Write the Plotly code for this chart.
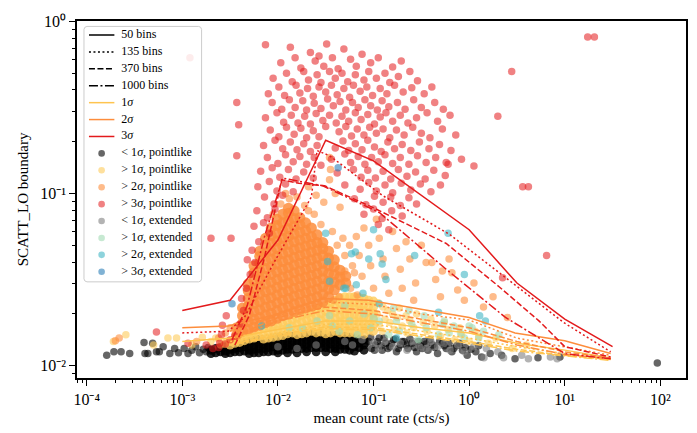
import plotly.graph_objects as go

# ---------------- boundary curves: log10(rate), log10(SCATT_LO) ----------------
# 3 sigma
s3_b50_lx = [-3.0, -2.5, -2.0, -1.5, -1.0, -0.5, 0.0, 0.5, 1.0, 1.5]
s3_b50_ly = [-1.68, -1.62, -1.27, -0.69, -0.81, -1.01, -1.21, -1.52, -1.73, -1.89]
s3_b135_lx = [-3.0, -2.52, -2.35, -2.04, -1.65, -1.59, -1.46, -0.91, -0.21, 0.38, 0.99, 1.48]
s3_b135_ly = [-1.81, -1.80, -1.72, -1.40, -1.02, -0.75, -0.78, -1.01, -1.235, -1.49, -1.75, -1.92]
s3_b370_lx = [-2.45, -2.30, -2.14, -1.96, -1.78, -1.51, -1.01, -0.24, 0.31, 0.73, 1.0, 1.48]
s3_b370_ly = [-1.88, -1.71, -1.37, -0.92, -0.94, -0.955, -1.08, -1.29, -1.54, -1.74, -1.89, -1.95]
s3_b1000_lx = [-2.48, -2.32, -2.14, -1.95, -1.53, -0.94, -0.24, 0.38, 1.0, 1.48]
s3_b1000_ly = [-1.85, -1.65, -1.25, -0.91, -0.955, -1.11, -1.44, -1.72, -1.93, -1.96]
# 2 sigma
s2_b50_lx = [-3.0, -2.52, -2.0, -1.52, -1.05, -0.32, 0.0, 0.48, 1.0, 1.48]
s2_b50_ly = [-1.78, -1.77, -1.70, -1.61, -1.62, -1.69, -1.72, -1.81, -1.855, -1.93]
s2_b135_lx = [-2.5, -2.0, -1.5, -1.0, -0.5, 0.0, 0.5, 1.0, 1.48]
s2_b135_ly = [-1.80, -1.71, -1.63, -1.645, -1.70, -1.735, -1.84, -1.89, -1.94]
s2_b370_lx = [-2.45, -2.0, -1.5, -1.0, -0.5, 0.0, 0.5, 1.0, 1.48]
s2_b370_ly = [-1.83, -1.72, -1.66, -1.68, -1.73, -1.78, -1.86, -1.92, -1.955]
s2_b1000_lx = [-2.45, -2.0, -1.5, -1.0, -0.5, 0.0, 0.5, 1.0, 1.48]
s2_b1000_ly = [-1.84, -1.74, -1.68, -1.70, -1.75, -1.80, -1.88, -1.935, -1.96]
# 1 sigma
s1_b50_lx = [-3.0, -2.5, -2.0, -1.5, -1.0, -0.5, 0.0, 0.5, 1.0, 1.48]
s1_b50_ly = [-1.86, -1.84, -1.79, -1.74, -1.74, -1.78, -1.81, -1.87, -1.91, -1.955]
s1_b135_lx = [-2.5, -2.0, -1.5, -1.0, -0.5, 0.0, 0.5, 1.0, 1.48]
s1_b135_ly = [-1.86, -1.81, -1.76, -1.76, -1.80, -1.84, -1.89, -1.93, -1.96]
s1_b370_lx = [-2.45, -2.0, -1.5, -1.0, -0.5, 0.0, 0.5, 1.0, 1.48]
s1_b370_ly = [-1.87, -1.82, -1.775, -1.78, -1.82, -1.86, -1.905, -1.94, -1.965]
s1_b1000_lx = [-2.45, -2.0, -1.5, -1.0, -0.5, 0.0, 0.5, 1.0, 1.48]
s1_b1000_ly = [-1.875, -1.83, -1.785, -1.79, -1.83, -1.87, -1.915, -1.945, -1.97]

# ---------------- sources: (log10 rate, log10 SCATT_LO) ----------------
lt1_point_cols = [
    (-2.70, [-1.91, -1.93]), (-2.65, [-1.90, -1.925]), (-2.60, [-1.895, -1.92]),
    (-2.55, [-1.89, -1.915, -1.93]), (-2.50, [-1.88, -1.905, -1.925]), (-2.45, [-1.875, -1.90, -1.92]),
    (-2.40, [-1.87, -1.895, -1.92]), (-2.35, [-1.865, -1.89, -1.915]), (-2.30, [-1.86, -1.885, -1.91, -1.93]),
    (-2.25, [-1.855, -1.88, -1.905, -1.925]), (-2.20, [-1.85, -1.875, -1.90, -1.925]),
    (-2.15, [-1.85, -1.875, -1.90, -1.92]), (-2.10, [-1.845, -1.87, -1.895, -1.92]),
    (-2.05, [-1.84, -1.865, -1.89, -1.915]), (-2.00, [-1.835, -1.86, -1.885, -1.91, -1.925]),
    (-1.95, [-1.835, -1.86, -1.885, -1.91]), (-1.90, [-1.83, -1.855, -1.88, -1.905, -1.925]),
    (-1.85, [-1.83, -1.855, -1.88, -1.905]), (-1.80, [-1.825, -1.85, -1.875, -1.90, -1.925]),
    (-1.75, [-1.825, -1.85, -1.875, -1.90]), (-1.70, [-1.825, -1.85, -1.875, -1.90, -1.92]),
    (-1.65, [-1.82, -1.845, -1.87, -1.895]), (-1.60, [-1.82, -1.845, -1.87, -1.895, -1.92]),
    (-1.55, [-1.82, -1.845, -1.87, -1.895]), (-1.50, [-1.82, -1.845, -1.87, -1.895, -1.92]),
    (-1.45, [-1.825, -1.85, -1.875, -1.90]), (-1.40, [-1.825, -1.85, -1.875, -1.90, -1.92]),
    (-1.35, [-1.83, -1.855, -1.88, -1.905]), (-1.30, [-1.83, -1.855, -1.88, -1.905]),
    (-1.25, [-1.835, -1.86, -1.885, -1.91]), (-1.20, [-1.84, -1.865, -1.89, -1.915]),
    (-1.15, [-1.845, -1.87, -1.895]), (-1.10, [-1.85, -1.88, -1.91]),
]
lt1_point_sparse = [
    (-3.79, -1.94), (-3.715, -1.92), (-3.64, -1.92), (-3.55, -1.93), (-3.40, -1.865), (-3.39, -1.93),
    (-3.36, -1.93), (-3.31, -1.87), (-3.27, -1.92), (-3.24, -1.92), (-3.20, -1.89), (-3.13, -1.93),
    (-3.08, -1.90), (-3.04, -1.925), (-2.98, -1.90), (-2.94, -1.93), (-2.90, -1.91), (-2.86, -1.89),
    (-2.82, -1.925), (-2.78, -1.905), (-2.75, -1.92), (-2.73, -1.895),
    (-1.05, -1.86), (-1.02, -1.90), (-0.98, -1.88), (-0.94, -1.84), (-0.91, -1.91), (-0.87, -1.87),
    (-0.83, -1.89), (-0.79, -1.85), (-0.76, -1.92), (-0.72, -1.88), (-0.68, -1.86), (-0.64, -1.90),
    (-0.60, -1.87), (-0.55, -1.92), (-0.51, -1.885), (-0.47, -1.86), (-0.43, -1.91), (-0.38, -1.88),
    (-0.33, -1.93), (-0.28, -1.87), (-0.24, -1.90), (-0.18, -1.92), (-0.13, -1.885), (-0.07, -1.91),
    (-0.02, -1.94), (0.07, -1.92), (0.13, -1.95), (0.22, -1.93), (0.34, -1.94), (0.48, -1.96),
    (0.72, -1.955), (0.95, -1.95), (1.968, -1.985),
    (-1.08, -1.87), (-1.03, -1.835), (-0.99, -1.91), (-0.96, -1.86), (-0.92, -1.885), (-0.89, -1.84),
    (-0.85, -1.90), (-0.81, -1.87), (-0.77, -1.845), (-0.74, -1.90), (-0.70, -1.86), (-0.66, -1.88),
    (-0.62, -1.845), (-0.57, -1.895), (-0.53, -1.86), (-0.49, -1.90), (-0.45, -1.875), (-0.41, -1.85),
    (-0.36, -1.895), (-0.31, -1.86), (-0.26, -1.885), (-0.21, -1.87), (-0.16, -1.90), (-0.10, -1.87),
    (-0.04, -1.895), (0.02, -1.905), (0.10, -1.885),
]
gt1_point_cols = [
    (-2.55, [-1.87]), (-2.50, [-1.86, -1.88]), (-2.45, [-1.845, -1.87]), (-2.40, [-1.835, -1.865]),
    (-2.35, [-1.825, -1.855]), (-2.30, [-1.815, -1.845]), (-2.25, [-1.805, -1.84]), (-2.20, [-1.795, -1.83]),
    (-2.15, [-1.785, -1.82, -1.845]), (-2.10, [-1.775, -1.81, -1.84]), (-2.05, [-1.77, -1.80, -1.835]),
    (-2.00, [-1.76, -1.795, -1.83]), (-1.95, [-1.755, -1.79, -1.825]), (-1.90, [-1.745, -1.78, -1.815]),
    (-1.85, [-1.735, -1.77, -1.81]), (-1.80, [-1.725, -1.76, -1.795, -1.82]),
    (-1.75, [-1.71, -1.745, -1.78, -1.815]), (-1.70, [-1.70, -1.735, -1.77, -1.81]),
    (-1.65, [-1.69, -1.725, -1.76, -1.80]), (-1.60, [-1.675, -1.71, -1.745, -1.78, -1.81]),
    (-1.55, [-1.665, -1.70, -1.735, -1.77, -1.805]), (-1.50, [-1.65, -1.685, -1.72, -1.755, -1.79, -1.815]),
    (-1.45, [-1.635, -1.67, -1.705, -1.74, -1.775, -1.81]), (-1.40, [-1.62, -1.655, -1.69, -1.725, -1.76, -1.80]),
    (-1.35, [-1.605, -1.64, -1.675, -1.71, -1.745, -1.78, -1.81]),
    (-1.30, [-1.60, -1.635, -1.67, -1.705, -1.74, -1.775, -1.81]),
    (-1.25, [-1.60, -1.635, -1.67, -1.705, -1.74, -1.775, -1.81]),
    (-1.20, [-1.60, -1.635, -1.67, -1.705, -1.74, -1.775, -1.81]),
    (-1.15, [-1.605, -1.64, -1.675, -1.71, -1.745, -1.78, -1.815]),
    (-1.10, [-1.61, -1.645, -1.68, -1.715, -1.75, -1.785, -1.82]),
    (-1.05, [-1.62, -1.655, -1.69, -1.725, -1.76, -1.795]),
    (-1.00, [-1.625, -1.66, -1.695, -1.73, -1.765, -1.80]),
]
gt1_point_sparse = [
    (-0.95, -1.635), (-0.96, -1.70), (-0.94, -1.76), (-0.90, -1.66), (-0.88, -1.73), (-0.91, -1.80),
    (-0.85, -1.68), (-0.83, -1.75), (-0.80, -1.70), (-0.78, -1.79), (-0.75, -1.72), (-0.73, -1.665),
    (-0.70, -1.77), (-0.66, -1.71), (-0.65, -1.81), (-0.62, -1.74), (-0.58, -1.78), (-0.55, -1.70),
    (-0.48, -1.75), (-0.44, -1.80), (-0.40, -1.73), (-0.36, -1.77), (-0.30, -1.83), (-0.26, -1.75),
    (-0.22, -1.79), (-0.15, -1.85), (-0.10, -1.78), (-0.08, -1.82), (0.00, -1.86), (0.06, -1.80),
    (0.10, -1.83), (0.20, -1.87), (0.28, -1.84), (0.45, -1.90), (0.60, -1.88),
    (-3.72, -1.86), (-3.59, -1.82), (-3.15, -1.84), (-3.06, -1.84), (-2.79, -1.835),
    (-2.90, -1.88), (-2.70, -1.86), (-2.65, -1.84), (-2.60, -1.88), (-3.30, -1.88),
]
gt2_point_cols = [
    (-2.43, [-1.82, -1.78]),
    (-2.37, [-1.80, -1.755, -1.71, -1.665]),
    (-2.31, [-1.79, -1.745, -1.70, -1.655, -1.61, -1.565, -1.525]),
    (-2.25, [-1.775, -1.73, -1.685, -1.64, -1.595, -1.55, -1.505, -1.46, -1.42]),
    (-2.19, [-1.765, -1.72, -1.675, -1.63, -1.585, -1.54, -1.495, -1.45, -1.405, -1.365, -1.335]),
    (-2.13, [-1.75, -1.705, -1.66, -1.615, -1.57, -1.525, -1.48, -1.435, -1.39, -1.345, -1.30, -1.26]),
    (-2.07, [-1.74, -1.695, -1.65, -1.605, -1.56, -1.515, -1.47, -1.425, -1.38, -1.335, -1.29, -1.245, -1.20]),
    (-2.01, [-1.725, -1.68, -1.635, -1.59, -1.545, -1.50, -1.455, -1.41, -1.365, -1.32, -1.275, -1.23, -1.185, -1.15]),
    (-1.95, [-1.71, -1.665, -1.62, -1.575, -1.53, -1.485, -1.44, -1.395, -1.35, -1.305, -1.26, -1.215, -1.17, -1.12]),
    (-1.89, [-1.70, -1.655, -1.61, -1.565, -1.52, -1.475, -1.43, -1.385, -1.34, -1.295, -1.25, -1.205, -1.16, -1.115, -1.085]),
    (-1.83, [-1.685, -1.64, -1.595, -1.55, -1.505, -1.46, -1.415, -1.37, -1.325, -1.28, -1.235, -1.19, -1.145, -1.10]),
    (-1.77, [-1.675, -1.63, -1.585, -1.54, -1.495, -1.45, -1.405, -1.36, -1.315, -1.27, -1.225, -1.18, -1.14]),
    (-1.71, [-1.665, -1.62, -1.575, -1.53, -1.485, -1.44, -1.395, -1.35, -1.305, -1.26, -1.215, -1.17]),
    (-1.65, [-1.655, -1.61, -1.565, -1.52, -1.475, -1.43, -1.385, -1.34, -1.295, -1.25, -1.20]),
    (-1.59, [-1.645, -1.60, -1.555, -1.51, -1.465, -1.42, -1.375, -1.33, -1.285, -1.24]),
    (-1.53, [-1.63, -1.585, -1.54, -1.495, -1.45, -1.405, -1.36, -1.32, -1.285]),
    (-1.47, [-1.60, -1.555, -1.51, -1.465, -1.42, -1.375, -1.335]),
    (-1.41, [-1.56, -1.515, -1.47, -1.425, -1.385]),
    (-1.35, [-1.53, -1.485, -1.445]),
    (-1.29, [-1.52, -1.48]),
]
gt2_point_sparse = [
    (-1.88, -1.03), (-1.92, -1.00), (-1.80, -1.02), (-1.72, -1.07), (-1.68, -1.10), (-2.05, -1.12),
    (-1.97, -1.06), (-1.62, -1.12), (-1.55, -1.18), (-1.46, -0.79), (-1.45, -0.86), (-1.46, -0.92),
    (-1.68, -0.96), (-1.60, -1.01), (-1.52, -1.05), (-1.40, -1.00), (-1.35, -1.08), (-1.43, -1.22),
    (-1.38, -1.30), (-1.32, -1.26), (-1.30, -1.36), (-1.25, -1.30), (-1.22, -1.42), (-1.18, -1.25),
    (-1.15, -1.36), (-1.12, -1.48), (-1.10, -1.20), (-1.05, -1.30), (-1.03, -1.42), (-1.00, -1.55),
    (-0.97, -1.15), (-0.94, -1.26), (-0.90, -1.38), (-0.88, -1.48), (-0.84, -1.58), (-0.80, -1.22),
    (-0.76, -1.32), (-0.72, -1.44), (-0.70, -1.55), (-0.66, -1.28), (-0.62, -1.38), (-0.58, -1.62),
    (-0.56, -1.52), (-0.50, -1.30), (-0.45, -1.40), (-0.39, -1.40), (-0.35, -1.50), (-0.30, -1.60),
    (-0.28, -1.45), (-0.21, -1.38), (-0.18, -1.46), (-0.12, -1.56), (-0.05, -1.62), (0.05, -1.52),
    (0.15, -1.66), (0.25, -1.60), (0.40, -1.72), (-1.30, -1.45), (-1.20, -1.46), (-1.24, -1.55),
    (-1.17, -1.59), (-1.36, -1.60), (-1.42, -1.62),
    (-3.70, -1.855), (-3.66, -1.84), (-2.85, -1.86), (-2.62, -1.84), (-2.55, -1.81), (-2.50, -1.78),
]
gt3_point_cloud = [
    (-2.13, -0.135), (-1.87, -0.15), (-1.66, -0.18), (-1.49, -0.13), (-1.31, -0.16), (-1.12, -0.19),
    (-1.57, -0.20),
    (-1.97, -0.24), (-1.82, -0.21), (-1.76, -0.27), (-1.61, -0.23), (-1.52, -0.26), (-1.43, -0.21),
    (-1.37, -0.275), (-1.24, -0.22), (-1.18, -0.26), (-1.03, -0.24), (-0.95, -0.21), (-0.80, -0.265),
    (-0.71, -0.23),
    (-2.05, -0.33), (-1.91, -0.30), (-1.85, -0.35), (-1.73, -0.29), (-1.68, -0.34), (-1.59, -0.31),
    (-1.55, -0.355), (-1.46, -0.29), (-1.40, -0.33), (-1.33, -0.30), (-1.27, -0.35), (-1.19, -0.31),
    (-1.10, -0.34), (-1.05, -0.29), (-0.97, -0.33), (-0.88, -0.30), (-0.83, -0.355), (-0.74, -0.32),
    (-0.62, -0.29), (-0.54, -0.345),
    (-2.10, -0.42), (-1.99, -0.38), (-1.93, -0.43), (-1.81, -0.37), (-1.77, -0.415), (-1.69, -0.39),
    (-1.63, -0.435), (-1.57, -0.38), (-1.50, -0.41), (-1.44, -0.37), (-1.38, -0.425), (-1.31, -0.39),
    (-1.25, -0.44), (-1.21, -0.37), (-1.14, -0.405), (-1.07, -0.38), (-1.01, -0.43), (-0.93, -0.39),
    (-0.86, -0.42), (-0.78, -0.37), (-0.69, -0.41), (-0.60, -0.385), (-0.47, -0.42), (-0.39, -0.38),
    (-2.06, -0.47), (-1.96, -0.51), (-1.88, -0.455), (-1.82, -0.50), (-1.74, -0.46), (-1.70, -0.515),
    (-1.62, -0.475), (-1.55, -0.505), (-1.48, -0.45), (-1.42, -0.49), (-1.35, -0.465), (-1.29, -0.515),
    (-1.22, -0.47), (-1.16, -0.50), (-1.09, -0.455), (-1.03, -0.49), (-0.96, -0.515), (-0.91, -0.46),
    (-0.84, -0.495), (-0.75, -0.47), (-0.67, -0.51), (-0.58, -0.455), (-0.50, -0.50), (-0.36, -0.47),
    (-0.27, -0.51),
    (-2.13, -0.56), (-2.01, -0.53), (-1.94, -0.585), (-1.86, -0.545), (-1.79, -0.59), (-1.72, -0.55),
    (-1.66, -0.595), (-1.60, -0.535), (-1.53, -0.575), (-1.46, -0.545), (-1.39, -0.59), (-1.33, -0.55),
    (-1.26, -0.58), (-1.19, -0.53), (-1.13, -0.57), (-1.06, -0.54), (-0.99, -0.595), (-0.93, -0.555),
    (-0.87, -0.53), (-0.80, -0.58), (-0.72, -0.545), (-0.64, -0.59), (-0.55, -0.56), (-0.44, -0.53),
    (-0.33, -0.58), (-0.20, -0.545),
    (-2.08, -0.63), (-1.99, -0.67), (-1.91, -0.615), (-1.83, -0.655), (-1.76, -0.62), (-1.70, -0.675),
    (-1.63, -0.635), (-1.57, -0.67), (-1.50, -0.61), (-1.36, -0.64), (-1.29, -0.61), (-1.23, -0.665),
    (-1.17, -0.625), (-1.10, -0.66), (-1.04, -0.615), (-0.97, -0.65), (-0.90, -0.625), (-0.83, -0.675),
    (-0.76, -0.63), (-0.68, -0.66), (-0.59, -0.615), (-0.50, -0.65), (-0.41, -0.675), (-0.28, -0.625),
    (-0.14, -0.66),
    (-2.15, -0.72), (-2.03, -0.69), (-1.95, -0.74), (-1.87, -0.70), (-1.80, -0.745), (-1.73, -0.71),
    (-1.66, -0.755), (-1.59, -0.72), (-1.40, -0.735), (-1.32, -0.695), (-1.26, -0.75), (-1.19, -0.71),
    (-1.12, -0.745), (-1.06, -0.69), (-0.99, -0.73), (-0.92, -0.755), (-0.85, -0.70), (-0.78, -0.74),
    (-0.70, -0.715), (-0.61, -0.75), (-0.52, -0.70), (-0.42, -0.74), (-0.31, -0.715), (-0.19, -0.75),
    (-2.11, -0.79), (-2.00, -0.825), (-1.92, -0.775), (-1.84, -0.815), (-1.77, -0.785), (-1.70, -0.83),
    (-1.62, -0.79), (-1.55, -0.835), (-1.44, -0.80), (-1.30, -0.77), (-1.24, -0.82), (-1.16, -0.785),
    (-1.09, -0.83), (-1.02, -0.79), (-0.95, -0.815), (-0.88, -0.775), (-0.80, -0.825), (-0.72, -0.79),
    (-0.63, -0.83), (-0.54, -0.78), (-0.45, -0.82), (-0.35, -0.79), (-0.22, -0.83), (-0.08, -0.80),
    (-2.18, -0.87), (-2.06, -0.85), (-1.98, -0.905), (-1.89, -0.86), (-1.81, -0.915), (-1.73, -0.875),
    (-1.63, -0.91), (-1.38, -0.88), (-1.21, -0.86), (-1.13, -0.905), (-1.06, -0.865), (-0.98, -0.91),
    (-0.90, -0.87), (-0.82, -0.915), (-0.74, -0.86), (-0.65, -0.90), (-0.56, -0.875), (-0.46, -0.915),
    (-0.37, -0.865), (-0.25, -0.895),
    (-2.21, -0.96), (-2.09, -0.93), (-2.01, -0.985), (-1.92, -0.945), (-1.84, -0.99), (-1.30, -0.95),
    (-1.14, -0.975), (-1.05, -0.935), (-0.97, -0.985), (-0.88, -0.95), (-0.80, -0.995), (-0.71, -0.94),
    (-0.61, -0.98), (-0.51, -0.945), (-0.40, -0.99),
    (-2.14, -1.02), (-2.04, -1.06), (-1.95, -1.01), (-1.20, -1.03), (-1.08, -1.065), (-0.99, -1.015),
    (-0.90, -1.05), (-0.82, -1.02), (-0.72, -1.07), (-0.63, -1.025), (-0.55, -1.06),
    (-2.22, -1.10), (-2.11, -1.14), (-2.03, -1.09), (-1.10, -1.12), (-1.00, -1.09), (-0.91, -1.145),
    (-0.81, -1.10), (-0.70, -1.13),
    (-2.25, -1.19), (-2.15, -1.17), (-2.09, -1.23), (-0.95, -1.18), (-0.84, -1.21),
    (-2.20, -1.28), (-2.27, -1.33), (-2.24, -1.40), (-2.29, -1.47),
]
gt3_point_sparse = [
    (-2.92, -0.21), (-2.43, -0.47), (-2.41, -0.60), (-2.43, -0.78), (-2.70, -1.26), (-2.49, -1.26),
    (1.24, -0.09), (1.31, -0.09), (0.445, -0.29), (0.56, -0.96), (0.62, -0.96), (0.81, -1.36),
    (0.35, -1.49), (-0.30, -0.95), (-0.24, -0.82), (0.05, -0.84), (0.30, -0.55),
    (-3.27, -1.805), (-2.94, -1.87), (-2.61, -1.87), (-2.59, -1.82), (-2.58, -1.765), (-2.54, -1.71),
    (-2.38, -1.61), (-2.32, -1.385), (-2.75, -1.88), (-2.68, -1.90), (-2.62, -1.895), (-2.55, -1.875),
    (-2.50, -1.85), (-2.45, -1.83), (-2.40, -1.76), (-2.36, -1.68), (-2.33, -1.55),
]
lt1_ext = [
    (-1.30, -1.86), (-1.22, -1.88), (-1.12, -1.85), (-1.00, -1.87), (-0.95, -1.90), (-0.88, -1.86),
    (-0.80, -1.89), (-0.72, -1.87), (-0.65, -1.91), (-0.58, -1.86), (-0.52, -1.89), (-0.45, -1.90),
    (-0.40, -1.86), (-0.33, -1.89), (-0.26, -1.87), (-0.20, -1.91), (-0.12, -1.88), (-0.05, -1.92),
    (0.05, -1.89), (0.155, -1.955), (0.18, -1.90), (0.30, -1.92), (0.36, -1.955), (0.55, -1.94),
    (0.62, -1.96), (0.85, -1.95), (0.92, -1.96), (-1.60, -1.88), (-1.80, -1.90), (-2.00, -1.89),
]
gt1_ext = [
    (-1.88, -1.78), (-1.74, -1.785), (-1.46, -1.71), (-1.43, -1.77), (-1.25, -1.74), (-1.10, -1.70),
    (-0.94, -1.74), (-0.76, -1.74), (-0.63, -1.68), (-0.45, -1.78), (-0.21, -1.81), (-0.09, -1.81),
    (-0.16, -1.77), (0.03, -1.78), (0.10, -1.84), (-0.32, -1.82), (-0.53, -1.85), (-0.73, -1.80),
    (-0.84, -1.82), (-1.03, -1.78), (-1.17, -1.82), (-1.36, -1.80), (-1.59, -1.74), (-1.30, -1.65),
    (-0.79, -1.665), (-0.47, -1.71), (-0.26, -1.74), (0.00, -1.77), (0.15, -1.80), (0.31, -1.82),
    (-0.05, -1.84), (-0.28, -1.76), (-0.60, -1.76), (-1.00, -1.72),
]
gt2_ext = [
    (-1.48, -1.395), (-1.05, -1.38), (-0.91, -1.41), (-0.87, -1.50), (-1.46, -1.51), (-1.31, -1.55),
    (-0.94, -1.64), (-0.32, -1.69), (-1.50, -1.23), (-1.23, -1.35), (-1.19, -1.34), (-0.93, -1.35),
    (-1.00, -1.21), (-0.57, -1.36), (-0.22, -1.23), (-1.29, -1.55), (-1.18, -1.53), (-1.11, -1.58),
    (-0.05, -1.47), (0.11, -1.71), (0.17, -1.74), (-2.17, -1.77), (-0.76, -1.84),
]
gt3_ext = [(-2.48, -1.64), (-1.37, -0.85)]

x_tick_exp = [-4, -3, -2, -1, 0, 1, 2]
y_tick_exp = [-2, -1, 0]
SUP = str.maketrans("-0123456789", "⁻⁰¹²³⁴⁵⁶⁷⁸⁹")


def cols_to_xy(cols):
    xs, ys = [], []
    for lx, lys in cols:
        for ly in lys:
            xs.append(10 ** lx)
            ys.append(10 ** ly)
    return xs, ys


def pairs_to_xy(pairs):
    return [10 ** p[0] for p in pairs], [10 ** p[1] for p in pairs]


def pow_label(e):
    return "10" + str(e).translate(SUP)


C1, C2, C3 = "#fec44f", "#fd8d3c", "#e31a1c"
COL = {
    "lt1p": "rgba(0,0,0,0.6)", "gt1p": "rgba(254,204,92,0.6)", "gt2p": "rgba(253,141,60,0.6)",
    "gt3p": "rgba(227,26,28,0.55)", "lt1e": "rgba(128,128,128,0.6)", "gt1e": "rgba(161,218,180,0.6)",
    "gt2e": "rgba(65,182,196,0.6)", "gt3e": "rgba(44,127,184,0.6)",
}
# colour of the heavily overlapped (saturated) cores of the dense clouds
CORE = {"lt1p": "rgba(0,0,0,0.85)", "gt1p": "rgba(254,204,92,0.8)", "gt2p": "rgba(253,141,60,0.85)"}
FONT = "Liberation Serif"
DASH = {"solid": "solid", "dot": "2px,2.5px", "dash": "6px,2.5px", "dashdot": "9px,2.5px,2px,2.5px"}

fig = go.Figure()


def add_pts(xy, col, size):
    fig.add_trace(go.Scatter(x=xy[0], y=xy[1], mode="markers", showlegend=False, hoverinfo="skip",
                             marker=dict(color=col, size=size, line=dict(width=0))))


add_pts(cols_to_xy(lt1_point_cols), CORE["lt1p"], 9)
add_pts(pairs_to_xy(lt1_point_sparse), COL["lt1p"], 7.5)
add_pts(cols_to_xy(gt1_point_cols), CORE["gt1p"], 9)
add_pts(pairs_to_xy(gt1_point_sparse), COL["gt1p"], 7.5)
add_pts(cols_to_xy(gt2_point_cols), CORE["gt2p"], 11)
add_pts(pairs_to_xy(gt2_point_sparse), COL["gt2p"], 7.5)
add_pts(pairs_to_xy(gt3_point_cloud), COL["gt3p"], 7.5)
add_pts(pairs_to_xy(gt3_point_sparse), COL["gt3p"], 7.5)
add_pts(pairs_to_xy(lt1_ext), COL["lt1e"], 7.5)
add_pts(pairs_to_xy(gt1_ext), COL["gt1e"], 7.5)
add_pts(pairs_to_xy(gt2_ext), COL["gt2e"], 7.5)
add_pts(pairs_to_xy(gt3_ext), COL["gt3e"], 7.5)

curves = [
    (s1_b50_lx, s1_b50_ly, C1, "solid"), (s1_b135_lx, s1_b135_ly, C1, "dot"),
    (s1_b370_lx, s1_b370_ly, C1, "dash"), (s1_b1000_lx, s1_b1000_ly, C1, "dashdot"),
    (s2_b50_lx, s2_b50_ly, C2, "solid"), (s2_b135_lx, s2_b135_ly, C2, "dot"),
    (s2_b370_lx, s2_b370_ly, C2, "dash"), (s2_b1000_lx, s2_b1000_ly, C2, "dashdot"),
    (s3_b50_lx, s3_b50_ly, C3, "solid"), (s3_b135_lx, s3_b135_ly, C3, "dot"),
    (s3_b370_lx, s3_b370_ly, C3, "dash"), (s3_b1000_lx, s3_b1000_ly, C3, "dashdot"),
]
for lx, ly, c, d in curves:
    fig.add_trace(go.Scatter(x=[10 ** v for v in lx], y=[10 ** v for v in ly], mode="lines",
                             showlegend=False, hoverinfo="skip",
                             line=dict(color=c, width=1.5, dash=DASH[d])))

# ---------------- hand-built legend on an overlay axis in pixel units ----------------
PL, PR, PT, PB, W, H = 77, 688, 21, 383, 697, 433
legend_items = [
    ("line", "50 bins", "black", "solid"), ("line", "135 bins", "black", "dot"),
    ("line", "370 bins", "black", "dash"), ("line", "1000 bins", "black", "dashdot"),
    ("line", "1<i>σ</i>", C1, "solid"), ("line", "2<i>σ</i>", C2, "solid"), ("line", "3<i>σ</i>", C3, "solid"),
    ("mark", "&lt; 1<i>σ</i>, pointlike", COL["lt1p"], None), ("mark", "&gt; 1<i>σ</i>, pointlike", COL["gt1p"], None),
    ("mark", "&gt; 2<i>σ</i>, pointlike", COL["gt2p"], None), ("mark", "&gt; 3<i>σ</i>, pointlike", COL["gt3p"], None),
    ("mark", "&lt; 1<i>σ</i>, extended", COL["lt1e"], None), ("mark", "&gt; 1<i>σ</i>, extended", COL["gt1e"], None),
    ("mark", "&gt; 2<i>σ</i>, extended", COL["gt2e"], None), ("mark", "&gt; 3<i>σ</i>, extended", COL["gt3e"], None),
]
bx0, by0, bx1, by1, r = 84, 26.5, 202, 285.5, 3
box_x = [bx0 + r, bx1 - r, bx1 - 0.9, bx1, bx1, bx1 - 0.9, bx1 - r, bx0 + r, bx0 + 0.9, bx0, bx0, bx0 + 0.9, bx0 + r]
box_y = [by0, by0, by0 + 0.9, by0 + r, by1 - r, by1 - 0.9, by1, by1, by1 - 0.9, by1 - r, by0 + r, by0 + 0.9, by0]
fig.add_trace(go.Scatter(x=box_x, y=box_y, xaxis="x2", yaxis="y2", mode="lines", fill="toself",
                         fillcolor="rgba(255,255,255,0.85)", line=dict(color="#cccccc", width=1),
                         showlegend=False, hoverinfo="skip"))
lab_x, lab_y, lab_t = [], [], []
for i, (kind, label, col, d) in enumerate(legend_items):
    yc = 35.2 + 17.15 * i
    if kind == "line":
        fig.add_trace(go.Scatter(x=[89, 114.5], y=[yc, yc], xaxis="x2", yaxis="y2", mode="lines",
                                 line=dict(color=col, width=1.5, dash=DASH[d]),
                                 showlegend=False, hoverinfo="skip"))
    else:
        fig.add_trace(go.Scatter(x=[101.7], y=[yc], xaxis="x2", yaxis="y2", mode="markers",
                                 marker=dict(color=col, size=6.6, line=dict(width=0)),
                                 showlegend=False, hoverinfo="skip"))
    lab_x.append(121.5)
    lab_y.append(yc)
    lab_t.append(label)
fig.add_trace(go.Scatter(x=lab_x, y=lab_y, text=lab_t, xaxis="x2", yaxis="y2", mode="text",
                         textposition="middle right", textfont=dict(family=FONT, size=12, color="black"),
                         showlegend=False, hoverinfo="skip"))

x_minor = [m * 10 ** e for e in range(-5, 3) for m in range(2, 10)]
y_minor = [m * 10 ** e for e in range(-3, 1) for m in range(2, 10)]

fig.update_layout(
    width=W, height=H,
    margin=dict(l=PL, r=W - PR, t=PT, b=H - PB),
    paper_bgcolor="white", plot_bgcolor="white",
    font=dict(family=FONT, size=15, color="black"),
    showlegend=False,
    xaxis=dict(type="log", range=[-4.101, 2.268], showgrid=False, zeroline=False,
               showline=True, linecolor="black", linewidth=1.5, mirror=True,
               ticks="outside", ticklen=6, tickwidth=1, tickcolor="black",
               tickvals=[10 ** e for e in x_tick_exp], ticktext=[pow_label(e) for e in x_tick_exp],
               tickfont=dict(size=16),
               minor=dict(tickvals=x_minor, ticks="outside", ticklen=3.5, tickwidth=0.8, tickcolor="black"),
               title=dict(text="mean count rate (cts/s)", font=dict(size=15), standoff=6)),
    yaxis=dict(type="log", range=[-2.072, 0.003], showgrid=False, zeroline=False,
               showline=True, linecolor="black", linewidth=1.5, mirror=True,
               ticks="outside", ticklen=6, tickwidth=1, tickcolor="black",
               tickvals=[10 ** e for e in y_tick_exp], ticktext=[pow_label(e) for e in y_tick_exp],
               tickfont=dict(size=16),
               minor=dict(tickvals=y_minor, ticks="outside", ticklen=3.5, tickwidth=0.8, tickcolor="black"),
               title=dict(text="SCATT_LO boundary", font=dict(size=15), standoff=8)),
    xaxis2=dict(overlaying="x", anchor="y2", range=[PL, PR], visible=False, fixedrange=True),
    yaxis2=dict(overlaying="y", anchor="x2", range=[PB, PT], visible=False, fixedrange=True),
)

fig.write_html("out.html")
